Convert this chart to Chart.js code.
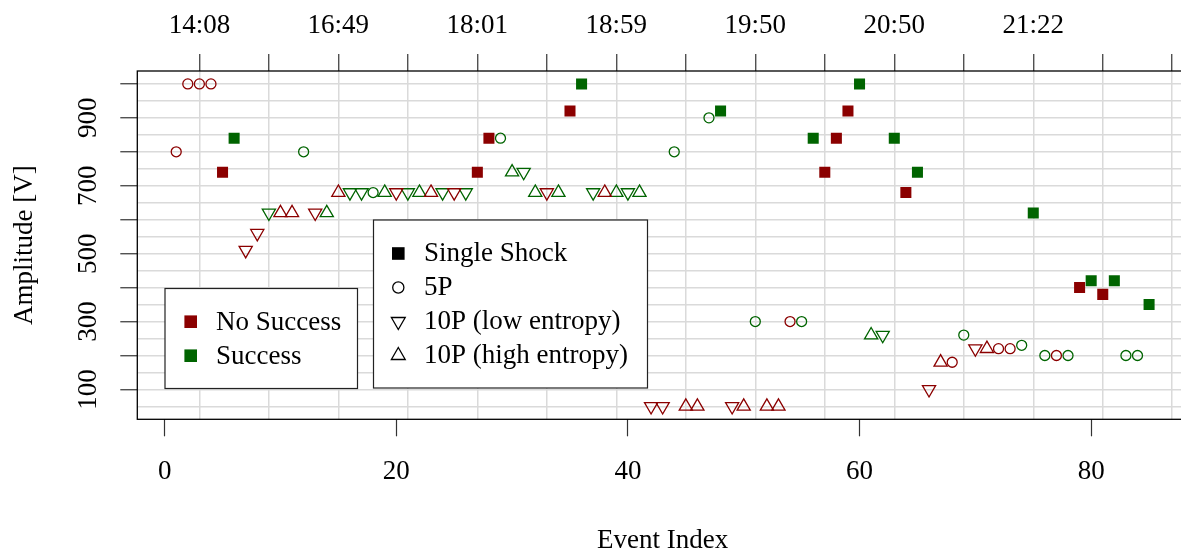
<!DOCTYPE html>
<html>
<head>
<meta charset="utf-8">
<script src="https://cdn.jsdelivr.net/npm/chart.js@4.4.1/dist/chart.umd.min.js"></script>
<style>
html, body { margin: 0; padding: 0; background: #fff; overflow: hidden; }
#wrap { width: 1181px; height: 553px; overflow: hidden; }
</style>
</head>
<body>
<div id="wrap"><canvas id="shockChart" width="1200" height="553"></canvas></div>
<script>
// Amplitude of each event in volts (event index = position + 1)
const amplitude = [
    800, 1000, 1000, 1000, 740, 840, 510, 560, 620, 620,
    620, 800, 620, 620, 680, 680, 680, 680, 680, 680,
    680, 680, 680, 680, 680, 680, 740, 840, 840, 740,
    740, 680, 680, 680, 920, 1000, 680, 680, 680, 680,
    680, 50, 50, 800, 50, 50, 900, 920, 50, 50,
    300, 50, 50, 300, 300, 840, 740, 840, 920, 1000,
    260, 260, 840, 680, 740, 100, 180, 180, 260, 220,
    220, 220, 220, 230, 620, 200, 200, 200, 400, 420,
    380, 420, 200, 200, 350
];

// S = single shock, P = 5P, L = 10P (low entropy), H = 10P (high entropy)
const shotType = [
    'P', 'P', 'P', 'P', 'S', 'S', 'L', 'L', 'L', 'H',
    'H', 'P', 'L', 'H', 'H', 'L', 'L', 'P', 'H', 'L',
    'L', 'H', 'H', 'L', 'L', 'L', 'S', 'S', 'P', 'H',
    'L', 'H', 'L', 'H', 'S', 'S', 'L', 'H', 'H', 'L',
    'H', 'L', 'L', 'P', 'H', 'H', 'P', 'S', 'L', 'H',
    'P', 'H', 'H', 'P', 'P', 'S', 'S', 'S', 'S', 'S',
    'H', 'L', 'S', 'S', 'S', 'L', 'H', 'P', 'P', 'L',
    'H', 'P', 'P', 'P', 'S', 'P', 'P', 'P', 'S', 'S',
    'S', 'S', 'P', 'P', 'S'
];

// 1 = success, 0 = no success
const success = [
    0, 0, 0, 0, 0, 1, 0, 0, 1, 0,
    0, 1, 0, 1, 0, 1, 1, 1, 1, 0,
    1, 1, 0, 1, 0, 1, 0, 0, 1, 1,
    1, 1, 0, 1, 0, 1, 1, 0, 1, 1,
    1, 0, 0, 1, 0, 0, 1, 1, 0, 0,
    1, 0, 0, 0, 1, 1, 0, 0, 0, 1,
    1, 1, 1, 0, 1, 0, 0, 0, 1, 0,
    0, 0, 0, 1, 1, 1, 0, 1, 0, 1,
    0, 1, 1, 1, 1
];

// axis ticks
const indexTicks = [0, 20, 40, 60, 80];
const timeTickEvents = [3, 9, 15, 21, 27, 33, 39, 45, 51, 57, 63, 69, 75, 81, 87];
const timeTickLabels = ['14:08', '', '16:49', '', '18:01', '', '18:59', '', '19:50', '', '20:50', '', '21:22', '', ''];
const yGridValues = [50, 100, 150, 200, 250, 300, 350, 400, 450, 500,
    550, 600, 650, 700, 750, 800, 850, 900, 950, 1000];
const yTickLabels = [100, 300, 500, 700, 900];

const RED = '#8b0000';
const GREEN = '#006400';
const FONT = "'Liberation Serif', 'Times New Roman', serif";
const FONT_SIZE = 27;

const shapes = {
    S: { pointStyle: 'rect', radius: 7.8, rotation: 0, filled: true },
    P: { pointStyle: 'circle', radius: 5, rotation: 0, filled: false },
    L: { pointStyle: 'triangle', radius: 7.6, rotation: 180, filled: false },
    H: { pointStyle: 'triangle', radius: 7.6, rotation: 0, filled: false }
};

function buildDataset(type, ok) {
    const pts = [];
    amplitude.forEach((v, i) => {
        if (shotType[i] === type && success[i] === ok) {
            pts.push({ x: i + 1, y: v });
        }
    });
    const s = shapes[type];
    const color = ok ? GREEN : RED;
    return {
        label: type + ok,
        data: pts,
        pointStyle: s.pointStyle,
        rotation: s.rotation,
        pointRadius: s.radius,
        backgroundColor: s.filled ? color : 'rgba(0,0,0,0)',
        borderColor: color,
        borderWidth: s.filled ? 0 : 1.3,
        showLine: false
    };
}

const datasets = [];
['S', 'P', 'L', 'H'].forEach(t => {
    datasets.push(buildDataset(t, 0));
    datasets.push(buildDataset(t, 1));
});

// small marker helper for the legend boxes
function drawMarker(ctx, kind, x, y, color) {
    ctx.save();
    ctx.strokeStyle = color;
    ctx.fillStyle = color;
    ctx.lineWidth = 1.3;
    ctx.beginPath();
    if (kind === 'square') {
        ctx.fillRect(x - 6.3, y - 6.3, 12.6, 12.6);
    } else if (kind === 'circle') {
        ctx.arc(x, y, 5.6, 0, Math.PI * 2);
        ctx.stroke();
    } else {
        const r = 8;
        const dir = kind === 'down' ? -1 : 1;
        ctx.moveTo(x, y - dir * r);
        ctx.lineTo(x + r * 0.866, y + dir * r / 2);
        ctx.lineTo(x - r * 0.866, y + dir * r / 2);
        ctx.closePath();
        ctx.stroke();
    }
    ctx.restore();
}

function legendBox(ctx, x0, y0, x1, y1) {
    ctx.save();
    ctx.fillStyle = '#fff';
    ctx.fillRect(x0, y0, x1 - x0, y1 - y0);
    ctx.strokeStyle = '#222';
    ctx.lineWidth = 1.2;
    ctx.strokeRect(x0, y0, x1 - x0, y1 - y0);
    ctx.restore();
}

const framePlugin = {
    id: 'framePlugin',
    afterDraw(chart) {
        const ctx = chart.ctx;
        const area = chart.chartArea;
        const yScale = chart.scales.y;

        // plot box
        ctx.save();
        ctx.strokeStyle = '#000';
        ctx.lineWidth = 1.3;
        ctx.strokeRect(area.left, area.top, area.right - area.left, area.bottom - area.top);
        ctx.restore();

        // y tick labels, written along the axis
        ctx.save();
        ctx.font = FONT_SIZE + 'px ' + FONT;
        ctx.fillStyle = '#000';
        ctx.textAlign = 'center';
        ctx.textBaseline = 'middle';
        yTickLabels.forEach(v => {
            ctx.save();
            ctx.translate(89, yScale.getPixelForValue(v));
            ctx.rotate(-Math.PI / 2);
            ctx.fillText(String(v), 0, 0);
            ctx.restore();
        });
        ctx.restore();

        // outcome legend
        ctx.save();
        ctx.font = FONT_SIZE + 'px ' + FONT;
        ctx.fillStyle = '#000';
        ctx.textBaseline = 'middle';
        legendBox(ctx, 165, 288.5, 357.5, 388.5);
        drawMarker(ctx, 'square', 190.7, 321.7, RED);
        drawMarker(ctx, 'square', 190.7, 355.7, GREEN);
        ctx.fillText('No Success', 216, 322.5);
        ctx.fillText('Success', 216, 356.5);

        // shot type legend
        legendBox(ctx, 373.5, 220, 647.5, 388);
        const rows = [
            ['square', 'Single Shock'],
            ['circle', '5P'],
            ['down', '10P (low entropy)'],
            ['up', '10P (high entropy)']
        ];
        rows.forEach((r, i) => {
            const y = 253.5 + i * 34;
            drawMarker(ctx, r[0], 398.3, y, '#000');
            ctx.fillText(r[1], 424, y + 0.8);
        });
        ctx.restore();
    }
};

new Chart(document.getElementById('shockChart'), {
    type: 'scatter',
    data: { datasets: datasets },
    options: {
        responsive: false,
        animation: false,
        events: [],
        layout: { padding: { left: 0, right: 12, top: 0, bottom: 0 } },
        plugins: {
            legend: { display: false },
            tooltip: { enabled: false }
        },
        scales: {
            x: {
                type: 'linear',
                position: 'bottom',
                min: -2.36,
                max: 88.36,
                afterBuildTicks: scale => { scale.ticks = indexTicks.map(v => ({ value: v })); },
                afterFit: scale => { scale.height = 133.7; },
                border: { display: false },
                grid: { drawOnChartArea: false, tickLength: 17, tickColor: '#333', tickWidth: 1.2 },
                ticks: {
                    autoSkip: false,
                    maxRotation: 0,
                    padding: 19,
                    color: '#000',
                    font: { family: FONT, size: FONT_SIZE }
                },
                title: {
                    display: true,
                    text: 'Event Index',
                    color: '#000',
                    font: { family: FONT, size: FONT_SIZE, lineHeight: 1 },
                    padding: { top: 0, bottom: -1 }
                }
            },
            time: {
                type: 'linear',
                position: 'top',
                min: -2.36,
                max: 88.36,
                afterBuildTicks: scale => { scale.ticks = timeTickEvents.map(v => ({ value: v })); },
                afterFit: scale => { scale.height = 71; },
                border: { display: false },
                grid: {
                    drawOnChartArea: true,
                    color: '#dadada',
                    lineWidth: 1.5,
                    tickLength: 17,
                    tickColor: '#333',
                    tickWidth: 1.2
                },
                ticks: {
                    autoSkip: false,
                    maxRotation: 0,
                    padding: 12,
                    color: '#000',
                    font: { family: FONT, size: FONT_SIZE },
                    callback: (value, i) => timeTickLabels[i]
                }
            },
            y: {
                type: 'linear',
                position: 'left',
                min: 12,
                max: 1038,
                afterBuildTicks: scale => { scale.ticks = yGridValues.map(v => ({ value: v })); },
                afterFit: scale => { scale.width = 137.3; },
                border: { display: false },
                grid: {
                    color: '#dadada',
                    lineWidth: 1.5,
                    tickLength: 17,
                    tickWidth: 1.2,
                    tickColor: ctx => (ctx.tick && ctx.tick.value % 100 === 0) ? '#333' : 'rgba(0,0,0,0)'
                },
                ticks: { display: false, autoSkip: false },
                title: {
                    display: true,
                    text: 'Amplitude [V]',
                    color: '#000',
                    font: { family: FONT, size: FONT_SIZE, lineHeight: 1 },
                    padding: { top: 11.5, bottom: 0 }
                }
            }
        }
    },
    plugins: [framePlugin]
});
</script>
</body>
</html>
